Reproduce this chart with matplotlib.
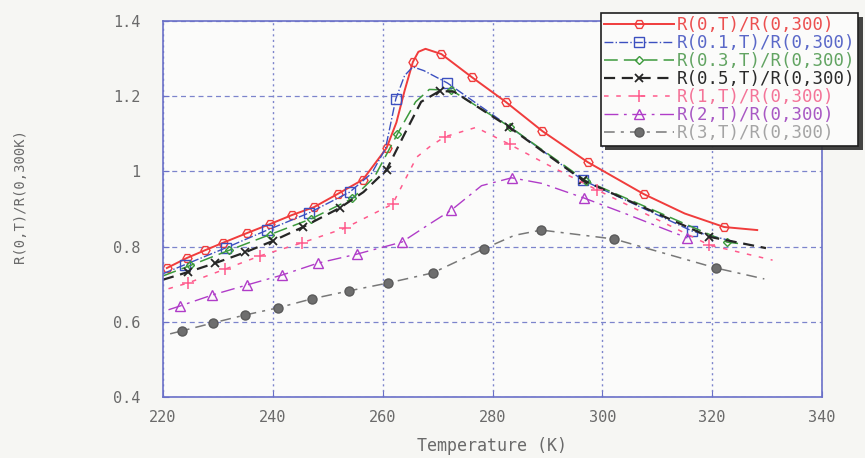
import matplotlib
matplotlib.use("Agg")
import matplotlib.pyplot as plt
from matplotlib.ticker import FixedLocator, FixedFormatter
import matplotlib.patheffects as pe

# ---- data: temperature (K) and normalised resistance R(H,T)/R(0,300) ----
t_h0 = [220.7, 224.4, 227.6, 230.9, 235.3, 239.5, 243.5, 247.5, 251.8, 256.4, 260.7,
        262.5, 264.0, 265.5, 266.5, 267.8, 270.7, 276.2, 282.4, 289.1, 297.3, 307.5,
        315.0, 322.2, 328.2]
r_h0 = [0.743, 0.770, 0.790, 0.810, 0.836, 0.860, 0.884, 0.905, 0.940, 0.978, 1.062,
        1.130, 1.215, 1.291, 1.318, 1.326, 1.312, 1.251, 1.185, 1.107, 1.025, 0.940,
        0.888, 0.852, 0.844]

t_h01 = [220.0, 224.0, 231.5, 239.0, 246.5, 254.0, 258.0, 260.5, 262.4, 264.0, 265.5,
         267.5, 271.8, 283.2, 296.4, 316.4, 324.4]
r_h01 = [0.728, 0.752, 0.797, 0.844, 0.889, 0.945, 0.995, 1.060, 1.193, 1.255, 1.278,
         1.268, 1.235, 1.118, 0.977, 0.841, 0.812]

t_h03 = [220.0, 225.0, 232.0, 239.5, 247.0, 254.5, 258.5, 262.7, 266.0, 268.5, 272.5,
         283.2, 297.0, 322.7, 326.0]
r_h03 = [0.722, 0.750, 0.790, 0.832, 0.874, 0.928, 0.985, 1.100, 1.185, 1.218, 1.216,
         1.118, 0.975, 0.812, 0.806]

t_h05 = [220.0, 224.5, 229.5, 235.0, 240.0, 245.5, 252.2, 256.5, 260.7, 264.0, 267.0,
         270.4, 273.0, 283.0, 296.4, 319.5, 329.8]
r_h05 = [0.712, 0.732, 0.756, 0.785, 0.815, 0.852, 0.903, 0.945, 1.004, 1.100, 1.185,
         1.214, 1.212, 1.118, 0.977, 0.826, 0.796]

t_h1 = [221.0, 224.5, 231.3, 237.6, 245.3, 253.1, 261.8, 266.2, 268.5, 271.3, 277.0,
        283.1, 290.0, 299.0, 310.0, 319.5, 331.0]
r_h1 = [0.688, 0.703, 0.740, 0.775, 0.810, 0.849, 0.913, 1.038, 1.065, 1.092, 1.117,
        1.072, 1.018, 0.951, 0.872, 0.804, 0.764]

t_h2 = [221.0, 223.1, 228.9, 235.3, 241.6, 248.2, 255.3, 263.5, 268.0, 272.5, 278.0,
        283.5, 289.0, 296.7, 304.5, 310.4, 315.5]
r_h2 = [0.632, 0.642, 0.671, 0.698, 0.724, 0.756, 0.780, 0.812, 0.855, 0.897, 0.962,
        0.983, 0.968, 0.929, 0.886, 0.852, 0.823]

t_h3 = [221.3, 223.5, 229.1, 234.9, 240.9, 247.1, 253.8, 260.9, 269.1, 278.4, 284.0,
        288.9, 302.2, 320.7, 329.5]
r_h3 = [0.568, 0.576, 0.597, 0.618, 0.637, 0.661, 0.682, 0.703, 0.730, 0.794, 0.830,
        0.844, 0.820, 0.743, 0.714]

labels = ["R(0,T)/R(0,300)", "R(0.1,T)/R(0,300)", "R(0.3,T)/R(0,300)",
          "R(0.5,T)/R(0,300)", "R(1,T)/R(0,300)", "R(2,T)/R(0,300)",
          "R(3,T)/R(0,300)"]

x_ticks = [220, 240, 260, 280, 300, 320, 340]
y_ticks = [0.4, 0.6, 0.8, 1.0, 1.2, 1.4]
y_tick_labels = ["0.4", "0.6", "0.8", "1", "1.2", "1.4"]

# ---- styles ----
series = [
    (t_h0, r_h0, dict(color="#f03c3c", ls="-", lw=1.4, marker="H", ms=6.5, mfc="none",
                      mew=1.0, markevery=[0, 1, 2, 3, 4, 5, 6, 7, 8, 9, 10, 13, 16, 17, 18,
                                          19, 20, 21, 23]), "#ec5050"),
    (t_h01, r_h01, dict(color="#3c50c0", ls="-.", lw=1.0, marker="s", ms=6.5, mfc="none",
                        mew=1.0, markevery=[1, 2, 3, 4, 5, 8, 12, 14, 15]), "#5a68c8"),
    (t_h03, r_h03, dict(color="#3c9a3c", ls=(0, (9, 4)), lw=1.1, marker="D", ms=4.5,
                        mfc="none", mew=1.0,
                        markevery=[1, 2, 3, 4, 5, 7, 10, 11, 12, 13]), "#62a462"),
    (t_h05, r_h05, dict(color="#262626", ls=(0, (5, 3)), lw=1.6, marker="x", ms=6,
                        mew=1.3, markevery=[1, 2, 3, 4, 5, 6, 8, 11, 13, 14, 15]),
     "#2a2a2a"),
    (t_h1, r_h1, dict(color="#ff5a8c", ls=(0, (3, 5)), lw=1.1, marker="+", ms=8,
                      mew=1.1, markevery=[1, 2, 3, 4, 5, 6, 9, 11, 13, 15]), "#f47498"),
    (t_h2, r_h2, dict(color="#b03cc8", ls=(0, (10, 4, 2, 4)), lw=1.0, marker="^", ms=6.5,
                      mfc="none", mew=1.0, markevery=[1, 2, 3, 4, 5, 6, 7, 9, 11, 13, 16]),
     "#a858c4"),
    (t_h3, r_h3, dict(color="#787878", mec="#5a5a5a", mfc="#6e6e6e", ls=(0, (7, 4, 2, 4)),
                      lw=1.1, marker="o", ms=6.5, mew=1.0,
                      markevery=[1, 2, 3, 4, 5, 6, 7, 8, 9, 11, 12, 13]), "#a4a4a4"),
]

MONO = ["DejaVu Sans Mono", "DejaVu Sans"]
plt.rcParams["font.family"] = MONO

fig = plt.figure(figsize=(8.65, 4.58), dpi=100, facecolor="#f6f6f3")
ax = fig.add_axes([163 / 865, 1 - 397 / 458, (822 - 163) / 865, (397 - 21) / 458])
ax.set_facecolor("#fbfbfa")

handles = []
for (t, r, st, _), lab in zip(series, labels):
    (h,) = ax.plot(t, r, label=lab, **st)
    handles.append(h)

ax.set_xlim(220, 340)
ax.set_ylim(0.4, 1.4)
ax.xaxis.set_major_locator(FixedLocator(x_ticks))
ax.yaxis.set_major_locator(FixedLocator(y_ticks))
ax.yaxis.set_major_formatter(FixedFormatter(y_tick_labels))

frame_col = "#6a70c8"
for sp in ax.spines.values():
    sp.set_color(frame_col)
    sp.set_linewidth(1.2)

ax.tick_params(axis="both", direction="in", length=4, color=frame_col,
               labelcolor="#6a6a6a", labelsize=11)
ax.tick_params(axis="x", pad=9)
ax.tick_params(axis="y", pad=16)

ax.xaxis.grid(True, color="#7c84cc", ls=(0, (1.5, 2.5)), lw=1.0)
ax.yaxis.grid(True, color="#7c84cc", ls=(0, (4, 3)), lw=0.9)
ax.set_axisbelow(True)

fig.text(492 / 865, 1 - 446 / 458, "Temperature (K)", ha="center", va="center",
         color="#6a6a6a", fontsize=12)
fig.text(20 / 865, 1 - 196 / 458, "R(0,T)/R(0,300K)", ha="center", va="center",
         rotation=90, color="#6a6a6a", fontsize=10)

leg = fig.legend(handles=handles, labels=labels, loc="upper left",
                 bbox_to_anchor=(601 / 865, 1 - 13 / 458), bbox_transform=fig.transFigure,
                 prop=dict(family=MONO, size=12.5), frameon=True, fancybox=False,
                 shadow=False, handlelength=4.0, handletextpad=0.15,
                 labelspacing=0.0, borderpad=0.2, borderaxespad=0)
frame = leg.get_frame()
frame.set_edgecolor("#202020")
frame.set_linewidth(1.2)
frame.set_facecolor("#fbfbfa")
frame.set_alpha(1)
frame.set_path_effects([pe.SimplePatchShadow(offset=(3, -3), shadow_rgbFace="#303030",
                                             alpha=0.9), pe.Normal()])
for txt, (_, _, _, tc) in zip(leg.get_texts(), series):
    txt.set_color(tc)

fig.savefig("out.png", dpi=100, facecolor=fig.get_facecolor())
